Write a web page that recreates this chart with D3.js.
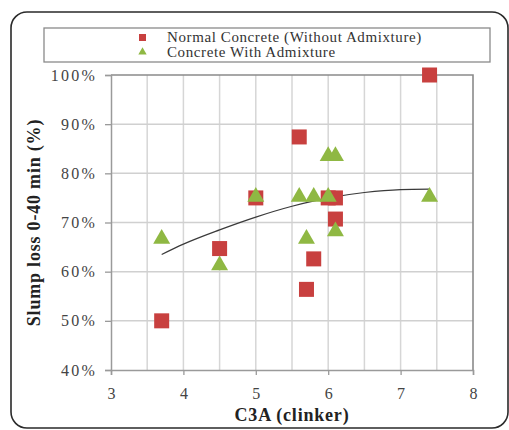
<!DOCTYPE html>
<html>
<head>
<meta charset="utf-8">
<script src="https://cdn.jsdelivr.net/npm/d3@7"></script>
<style>
  html, body { margin: 0; padding: 0; background: #fff; }
  svg { display: block; }
</style>
</head>
<body>
<svg id="chart" width="509" height="430"></svg>
<script>
// C3A content of clinker vs. slump loss after 40 minutes
const normalC3A   = [3.7, 4.5, 5.0, 5.6, 5.7, 5.8, 6.0, 6.1, 6.1, 7.4];
const normalLoss  = [50, 64.7, 75, 87.4, 56.4, 62.6, 75, 75, 70.7, 100];

const admixC3A    = [3.7, 4.5, 5.0, 5.6, 5.7, 5.8, 6.0, 6.0, 6.1, 6.1, 7.4];
const admixLoss   = [66.7, 61.3, 75.2, 75.2, 66.7, 75.2, 75.2, 83.5, 68.2, 83.5, 75.2];

// polynomial trend line, read at regular C3A steps
const trendC3A    = [3.7, 4.0, 4.5, 5.0, 5.5, 6.0, 6.5, 7.0, 7.4];
const trendLoss   = [63.5, 65.6, 68.5, 71.1, 73.3, 75.0, 76.1, 76.7, 76.8];

const xTicks = [3, 4, 5, 6, 7, 8];
const xGrid  = [3.5, 4, 4.5, 5, 5.5, 6, 6.5, 7, 7.5];
const yTicks = [40, 50, 60, 70, 80, 90, 100];

const legendLabels = ["Normal Concrete (Without Admixture)", "Concrete With Admixture"];

const RED = "#c8403f";
const GREEN = "#8fb843";
const SERIF = "'Liberation Serif', 'DejaVu Serif', serif";

const svg = d3.select("#chart");

// outer rounded frame
svg.append("rect")
  .attr("x", 11).attr("y", 12).attr("width", 497).attr("height", 416)
  .attr("rx", 16).attr("ry", 16)
  .attr("fill", "#fff").attr("stroke", "#2a2a2a").attr("stroke-width", 1.6);

const plot = { left: 111, right: 473, top: 75, bottom: 370 };

const x = d3.scaleLinear().domain([3, 8]).range([plot.left, plot.right]);
const y = d3.scaleLinear().domain([40, 100]).range([plot.bottom, plot.top]);

// grid
const grid = svg.append("g");
grid.selectAll("line.v").data(xGrid).join("line")
  .attr("x1", d => x(d)).attr("x2", d => x(d))
  .attr("y1", plot.top).attr("y2", plot.bottom)
  .attr("stroke", "#d6d6d6").attr("stroke-width", 1.5);
grid.selectAll("line.h").data(yTicks.filter(d => d > 40 && d < 100)).join("line")
  .attr("x1", plot.left).attr("x2", plot.right)
  .attr("y1", d => y(d)).attr("y2", d => y(d))
  .attr("stroke", "#d0d0d0").attr("stroke-width", 1.5);

// frame: top & right darker
svg.append("path")
  .attr("d", `M${plot.left},${plot.top}H${plot.right}V${plot.bottom}`)
  .attr("fill", "none").attr("stroke", "#8a8a8a").attr("stroke-width", 1.6);

// axes
const xAxis = d3.axisBottom(x).tickValues(xTicks).tickSize(5).tickPadding(13).tickFormat(d3.format("d"));
const yAxis = d3.axisLeft(y).tickValues(yTicks).tickSize(6).tickPadding(8).tickFormat(d => d + "%");

const gx = svg.append("g").attr("transform", `translate(0,${plot.bottom})`).call(xAxis);
const gy = svg.append("g").attr("transform", `translate(${plot.left},0)`).call(yAxis);
[gx, gy].forEach(g => {
  g.select(".domain").attr("stroke", "#9a9a9a").attr("stroke-width", 1.5);
  g.selectAll(".tick line").attr("stroke", "#9a9a9a").attr("stroke-width", 1.3);
  g.selectAll(".tick text")
    .attr("font-family", SERIF).attr("font-size", 16).attr("fill", "#444");
});
gy.selectAll(".tick text").attr("letter-spacing", 2.2);

// trend line
const line = d3.line().x(d => x(d[0])).y(d => y(d[1])).curve(d3.curveMonotoneX);
svg.append("path")
  .datum(d3.zip(trendC3A, trendLoss))
  .attr("d", line)
  .attr("fill", "none").attr("stroke", "#3a3a3a").attr("stroke-width", 1.2);

// markers
const sq = 15;
svg.append("g").selectAll("rect").data(d3.zip(normalC3A, normalLoss)).join("rect")
  .attr("x", d => x(d[0]) - sq / 2).attr("y", d => y(d[1]) - sq / 2)
  .attr("width", sq).attr("height", sq).attr("fill", RED);

const tri = d3.symbol().type(d3.symbolTriangle).size(125);
svg.append("g").selectAll("path").data(d3.zip(admixC3A, admixLoss)).join("path")
  .attr("d", tri)
  .attr("transform", d => `translate(${x(d[0])},${y(d[1])})`)
  .attr("fill", GREEN);

// legend
const lg = svg.append("g");
lg.append("rect")
  .attr("x", 44).attr("y", 28).attr("width", 446).attr("height", 34)
  .attr("fill", "#fff").attr("stroke", "#8a8a8a").attr("stroke-width", 1.3);
lg.append("rect").attr("x", 139).attr("y", 34).attr("width", 7).attr("height", 7).attr("fill", RED);
lg.append("path").attr("d", d3.symbol().type(d3.symbolTriangle).size(30))
  .attr("transform", "translate(142.5,52)").attr("fill", GREEN);
lg.selectAll("text").data(legendLabels).join("text")
  .attr("x", 167).attr("y", (d, i) => 42 + i * 15)
  .attr("font-family", SERIF).attr("font-size", 15).attr("letter-spacing", 0.6).attr("fill", "#333")
  .text(d => d);

// axis titles
svg.append("text")
  .attr("x", (plot.left + plot.right) / 2).attr("y", 421)
  .attr("text-anchor", "middle")
  .attr("font-family", SERIF).attr("font-size", 18).attr("font-weight", "bold")
  .attr("letter-spacing", 0.8).attr("fill", "#222")
  .text("C3A (clinker)");
svg.append("text")
  .attr("transform", `translate(40,${(plot.top + plot.bottom) / 2}) rotate(-90)`)
  .attr("text-anchor", "middle")
  .attr("font-family", SERIF).attr("font-size", 18).attr("font-weight", "bold")
  .attr("letter-spacing", 0.8).attr("fill", "#222")
  .text("Slump loss 0-40 min (%)");
</script>
</body>
</html>
